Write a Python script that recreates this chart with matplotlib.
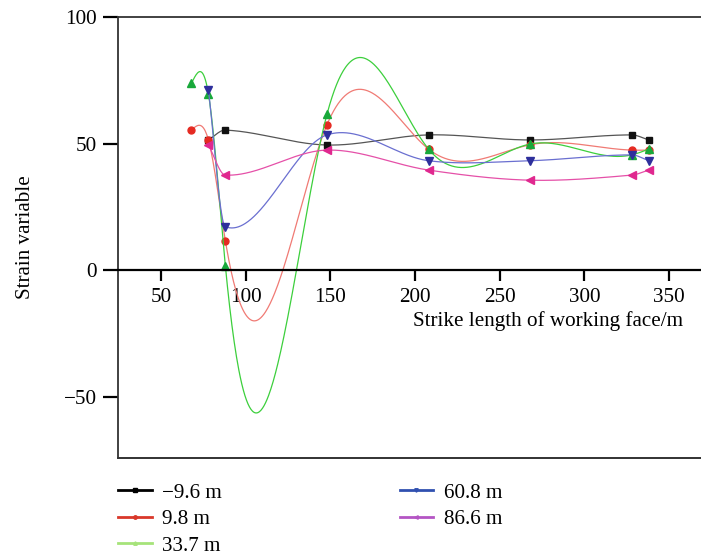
import numpy as np
import matplotlib
matplotlib.use('Agg')
import matplotlib.pyplot as plt
from matplotlib.lines import Line2D

plt.rcParams['font.family'] = ['Liberation Serif', 'DejaVu Serif']
plt.rcParams['font.size'] = 15.2
plt.rcParams['axes.unicode_minus'] = True

# Strike length of the working face at each measuring point (m)
x_full = [68, 78, 88, 148, 208, 268, 328, 338]
x_short = [78, 88, 148, 208, 268, 328, 338]

# Strain variable per depth
strain_m9_6 = [51.4, 55.3, 49.4, 53.4, 51.4, 53.4, 51.4]
strain_9_8 = [55.3, 51.4, 11.6, 57.4, 47.8, 49.5, 47.4, 47.4]
strain_33_7 = [73.8, 69.6, 1.7, 61.5, 47.8, 49.8, 45.5, 47.8]
strain_60_8 = [71.1, 17.1, 53.4, 43.2, 43.2, 45.5, 43.2]
strain_86_6 = [49.4, 37.5, 47.4, 39.5, 35.5, 37.5, 39.5]

labels = ['\u22129.6 m', '9.8 m', '33.7 m', '60.8 m', '86.6 m']
y_ticks = [-50, 0, 50, 100]
x_ticks = [50, 100, 150, 200, 250, 300, 350]


# Natural cubic spline through the points.
def natural_spline(x, y, n=600):
    x = np.asarray(x, float)
    y = np.asarray(y, float)
    k = len(x)
    h = np.diff(x)
    A = np.zeros((k, k))
    b = np.zeros(k)
    A[0, 0] = A[-1, -1] = 1
    for i in range(1, k - 1):
        A[i, i - 1] = h[i - 1]
        A[i, i] = 2 * (h[i - 1] + h[i])
        A[i, i + 1] = h[i]
        b[i] = 3 * ((y[i + 1] - y[i]) / h[i] - (y[i] - y[i - 1]) / h[i - 1])
    c = np.linalg.solve(A, b)
    xs = np.linspace(x[0], x[-1], n)
    idx = np.clip(np.searchsorted(x, xs) - 1, 0, k - 2)
    dx = xs - x[idx]
    bc = (y[1:] - y[:-1]) / h - h * (2 * c[:-1] + c[1:]) / 3
    dc = (c[1:] - c[:-1]) / (3 * h)
    ys = y[idx] + bc[idx] * dx + c[idx] * dx ** 2 + dc[idx] * dx ** 3
    return xs, ys


# Cardinal (Catmull-Rom style) Hermite curve, tangents from neighbouring points.
def cardinal_spline(x, y, n=600):
    x = np.asarray(x, float)
    y = np.asarray(y, float)
    k = len(x)
    m = np.zeros(k)
    m[0] = (y[1] - y[0]) / (x[1] - x[0])
    m[-1] = (y[-1] - y[-2]) / (x[-1] - x[-2])
    m[1:-1] = (y[2:] - y[:-2]) / (x[2:] - x[:-2])
    xs = np.linspace(x[0], x[-1], n)
    idx = np.clip(np.searchsorted(x, xs) - 1, 0, k - 2)
    h = x[idx + 1] - x[idx]
    t = (xs - x[idx]) / h
    h00 = 2 * t ** 3 - 3 * t ** 2 + 1
    h10 = t ** 3 - 2 * t ** 2 + t
    h01 = -2 * t ** 3 + 3 * t ** 2
    h11 = t ** 3 - t ** 2
    ys = h00 * y[idx] + h10 * h * m[idx] + h01 * y[idx + 1] + h11 * h * m[idx + 1]
    return xs, ys


series = [
    (x_short, strain_m9_6, cardinal_spline, '#555555', '#111111', 's', 4.5),
    (x_full, strain_9_8, natural_spline, '#f07a74', '#e52a22', 'o', 5),
    (x_full, strain_33_7, natural_spline, '#3ccf3c', '#18a83a', '^', 6),
    (x_short, strain_60_8, cardinal_spline, '#6a6fd0', '#2e2f9c', 'v', 6),
    (x_short, strain_86_6, cardinal_spline, '#e550a8', '#e0288f', '<', 6),
]
legend_colors = ['#000000', '#d9382a', '#a6e37a', '#3050b0', '#b455c4']

fig = plt.figure(figsize=(7.01, 5.55), dpi=100)
ax = fig.add_axes([118 / 701, 1 - 458 / 555, 1 - 118 / 701, (458 - 17) / 555])

for xs, ys, curve, lc, mc, mk, ms in series:
    sx, sy = curve(xs, ys)
    ax.plot(sx, sy, color=lc, lw=0.9)
    ax.plot(xs, ys, ls='none', marker=mk, color=mc, ms=ms, mec=mc)

ax.set_xlim(24.6, 368.9)
ax.set_ylim(-74.3, 100)

# x axis crosses at zero, frame kept on left, top and bottom
ax.spines['bottom'].set_position(('data', 0))
ax.spines['bottom'].set_linewidth(1.6)
ax.spines['right'].set_visible(False)
for s in ['left', 'top']:
    ax.spines[s].set_linewidth(1.3)
    ax.spines[s].set_color('#333333')
ax.plot([0, 1], [0, 0], transform=ax.transAxes, color='#222222', lw=1.3, clip_on=False)

ax.set_xticks(x_ticks)
ax.set_yticks(y_ticks)
ax.tick_params(axis='y', direction='out', length=11, width=1.6, pad=4)
ax.tick_params(axis='x', direction='out', length=8, width=1.6, pad=5)

ax.set_ylabel('Strain variable', labelpad=21)
fig.text(683 / 701, 1 - 321 / 555, 'Strike length of working face/m', ha='right', va='center')

handles = [Line2D([], [], color=c, lw=2, marker=s[5], ms=2.5) for c, s in zip(legend_colors, series)]
fig.legend(handles, labels, ncol=2, loc='upper left', bbox_to_anchor=(118 / 701, 1 - 483 / 555),
           frameon=False, handlelength=1.6, handletextpad=0.5, columnspacing=8.4,
           labelspacing=0.32, borderpad=0, borderaxespad=0)

fig.savefig('out.png', dpi=100)
